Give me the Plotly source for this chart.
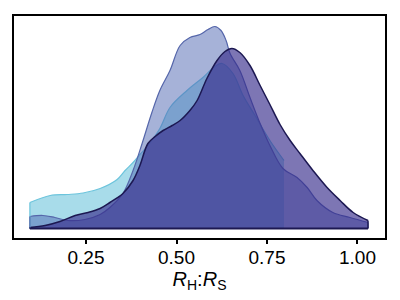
import plotly.graph_objects as go

# Density curves (x = R_H:R_S, y = density)
light_x = [0.095, 0.151, 0.198, 0.242, 0.289, 0.336, 0.358, 0.380, 0.399, 0.421, 0.454, 0.482,
           0.529, 0.573, 0.606, 0.626, 0.656, 0.684, 0.717, 0.758, 0.797]
light_y = [0.52, 0.66, 0.68, 0.71, 0.80, 0.98, 1.16, 1.32, 1.48, 1.66, 2.00, 2.42,
           2.76, 3.02, 3.24, 3.30, 3.10, 2.66, 2.26, 1.76, 1.36]

medium_x = [0.095, 0.131, 0.164, 0.200, 0.247, 0.289, 0.316, 0.352, 0.380, 0.405, 0.432, 0.454,
            0.482, 0.510, 0.537, 0.565, 0.587, 0.606, 0.623, 0.637, 0.648, 0.675, 0.703, 0.731,
            0.758, 0.794, 0.833, 0.861, 0.888, 0.932, 0.979, 1.029]
medium_y = [0.24, 0.26, 0.22, 0.16, 0.18, 0.28, 0.42, 0.70, 1.16, 1.70, 2.32, 2.76,
            3.16, 3.66, 3.82, 3.88, 3.98, 4.04, 3.96, 3.76, 3.50, 3.16, 2.62, 2.10,
            1.66, 1.20, 1.02, 0.82, 0.56, 0.32, 0.22, 0.12]

dark_x = [0.095, 0.137, 0.178, 0.220, 0.256, 0.289, 0.316, 0.352, 0.380, 0.399, 0.421, 0.441,
          0.463, 0.488, 0.510, 0.537, 0.557, 0.584, 0.612, 0.634, 0.653, 0.675, 0.703, 0.731,
          0.758, 0.786, 0.814, 0.841, 0.877, 0.916, 0.952, 0.988, 1.029]
dark_y = [0.02, 0.06, 0.14, 0.26, 0.32, 0.40, 0.52, 0.70, 0.96, 1.26, 1.70, 1.84,
          1.96, 2.06, 2.16, 2.36, 2.56, 3.00, 3.36, 3.54, 3.60, 3.52, 3.26, 2.86,
          2.48, 2.08, 1.76, 1.50, 1.16, 0.82, 0.56, 0.32, 0.16]

tick_vals = [0.25, 0.50, 0.75, 1.00]
tick_text = ["0.25", "0.50", "0.75", "1.00"]

series = [
    (light_x, light_y, "rgba(81,185,213,0.5)", "#6cc4dc", 1.2, False),
    (medium_x, medium_y, "rgba(77,101,177,0.5)", "#5566aa", 1.2, True),
    (dark_x, dark_y, "rgba(55,45,140,0.65)", "#1c1852", 1.5, True),
]

fig = go.Figure()
for xs, ys, fc, lc, lw, end_edge in series:
    fig.add_trace(go.Scatter(x=xs, y=ys, mode="lines", fill="tozeroy", fillcolor=fc,
                             line=dict(color=lc, width=lw, shape="spline", smoothing=1.0),
                             hoverinfo="skip"))
for xs, ys, fc, lc, lw, end_edge in series:
    ex = [xs[0], xs[0]]
    ey = [0, ys[0]]
    if end_edge:
        ex += [None, xs[-1], xs[-1]]
        ey += [None, 0, ys[-1]]
    fig.add_trace(go.Scatter(x=ex, y=ey, mode="lines",
                             line=dict(color=lc, width=lw), hoverinfo="skip"))
fig.add_trace(go.Scatter(x=[min(dark_x[0], medium_x[0]), max(dark_x[-1], medium_x[-1])], y=[0, 0],
                         mode="lines", line=dict(color="#1c1852", width=2), hoverinfo="skip"))

fig.update_layout(
    width=392, height=292,
    margin=dict(l=6, r=15, t=8, b=62),
    paper_bgcolor="white", plot_bgcolor="white",
    showlegend=False,
    font=dict(family="Liberation Sans, Arial, sans-serif", size=19, color="black"),
    xaxis=dict(range=[0.0511, 1.0760], tickvals=tick_vals, ticktext=tick_text,
               ticks="outside", ticklen=4, tickwidth=1.5, tickcolor="black",
               ticklabelstandoff=-3,
               showline=True, linecolor="black", linewidth=1.5, mirror=True,
               showgrid=False, zeroline=False, automargin=False,
               title=dict(text="<i>R</i><sub>H</sub>:<i>R</i><sub>S</sub>", standoff=2,
                          font=dict(size=20))),
    yaxis=dict(range=[-0.19, 4.25], showticklabels=False, ticks="",
               showline=True, linecolor="black", linewidth=1.5, mirror=True,
               showgrid=False, zeroline=False, automargin=False),
)
fig.write_html("out.html")
